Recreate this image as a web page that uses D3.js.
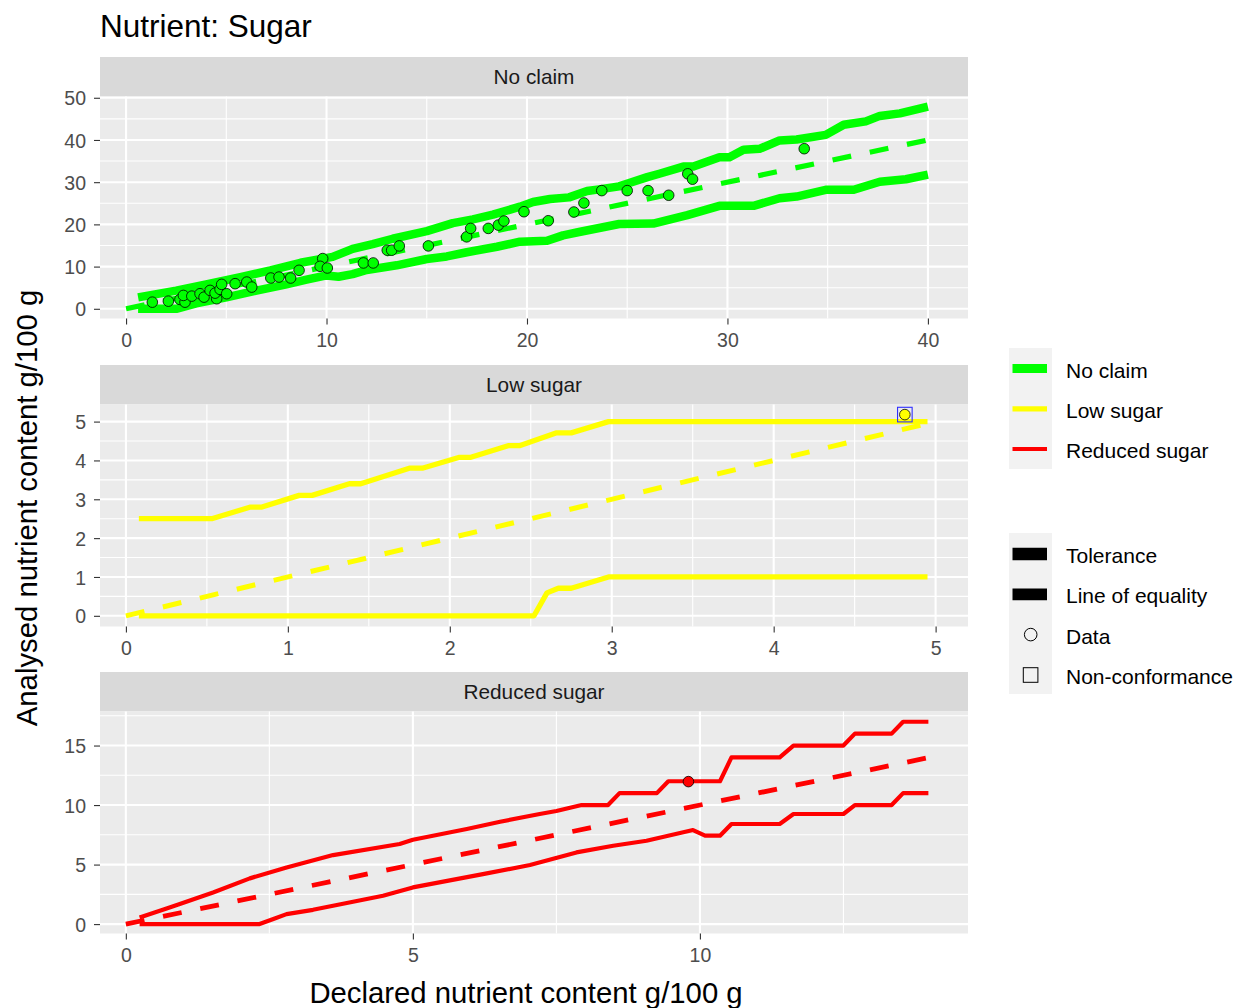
<!DOCTYPE html>
<html><head><meta charset="utf-8">
<script src="https://cdn.jsdelivr.net/npm/d3@7/dist/d3.min.js"></script>
<style>
body{margin:0;background:#fff}
svg{display:block}
text{font-family:"Liberation Sans",Arial,sans-serif}
</style>
</head><body>
<svg id="chart" width="1235" height="1008"></svg>
<script>
// ---------- DATA ----------
const chartTitle = "Nutrient: Sugar";
const xAxisTitle = "Declared nutrient content g/100 g";
const yAxisTitle = "Analysed nutrient content g/100 g";
const panelNames = ["No claim", "Low sugar", "Reduced sugar"];
const panelColors = ["#00FF00", "#FFFF00", "#FF0000"];

// tick labels per panel
const xTicksNoClaim = [0, 10, 20, 30, 40];
const yTicksNoClaim = [0, 10, 20, 30, 40, 50];
const xTicksLow = [0, 1, 2, 3, 4, 5];
const yTicksLow = [0, 1, 2, 3, 4, 5];
const xTicksReduced = [0, 5, 10];
const yTicksReduced = [0, 5, 10, 15];

// No claim: tolerance lines, line of equality, data
const ncUpperX = [0.6, 2.5, 4.0, 5.7, 7.2, 8.7, 10.3, 11.3, 12.3, 13.3, 15.0, 16.3, 17.3, 18.3, 19.65, 20.3, 21.15, 22.1, 23.0, 23.6, 24.6, 25.1, 26.0, 26.6, 27.8, 28.3, 29.6, 30.1, 30.8, 31.6, 32.6, 33.45, 34.9, 35.8, 36.9, 37.6, 38.6, 40.0];
const ncUpperY = [2.7, 4.3, 5.8, 7.5, 9.1, 10.9, 12.3, 14.2, 15.3, 16.6, 18.4, 20.3, 21.2, 22.3, 24.2, 25.3, 26.0, 26.4, 27.9, 28.3, 29.0, 29.8, 31.2, 32.0, 33.7, 33.7, 35.9, 35.9, 37.7, 37.9, 39.9, 40.1, 41.2, 43.6, 44.4, 45.7, 46.3, 47.9];
const ncLowerX = [0.6, 2.5, 3.5, 5.0, 6.5, 8.0, 9.0, 10.0, 10.6, 11.3, 12.0, 13.5, 15.0, 16.0, 17.0, 18.5, 19.65, 21.0, 21.8, 22.6, 24.6, 26.3, 28.0, 29.6, 31.3, 32.6, 33.45, 34.9, 36.3, 37.6, 38.9, 40.0];
const ncLowerY = [0.0, 0.0, 1.3, 2.7, 4.3, 5.8, 6.9, 7.9, 7.6, 8.2, 9.2, 10.3, 11.8, 12.4, 13.4, 14.7, 15.9, 16.1, 17.4, 18.2, 20.1, 20.2, 22.2, 24.4, 24.4, 26.2, 26.6, 28.2, 28.2, 30.1, 30.7, 31.8];
const ncEqualX = [0, 40];
const ncEqualY = [0, 40];
const ncDataX = [1.31, 2.11, 2.69, 2.94, 2.86, 3.28, 3.69, 3.89, 4.19, 4.52, 4.44, 4.69, 4.77, 5.02, 5.44, 6.02, 6.27, 7.22, 7.63, 8.21, 8.63, 9.81, 9.68, 10.04, 11.84, 12.33, 13.03, 13.25, 13.63, 15.08, 16.99, 17.19, 18.07, 18.57, 18.85, 19.85, 21.06, 22.34, 22.84, 23.73, 25.0, 26.04, 27.07, 28.02, 28.26, 33.83];
const ncDataY = [1.57, 1.81, 2.21, 1.57, 3.17, 3.0, 3.57, 2.76, 4.36, 2.38, 3.71, 4.6, 5.79, 3.57, 5.95, 6.33, 5.14, 7.29, 7.52, 7.29, 9.12, 11.9, 10.07, 9.67, 10.86, 10.86, 13.88, 13.88, 14.9, 14.9, 17.05, 19.05, 19.05, 19.83, 20.79, 23.0, 20.86, 22.93, 25.07, 28.0, 28.0, 28.0, 26.9, 31.98, 30.71, 37.93];

// Low sugar
const lsUpperX = [0.08, 0.53, 0.77, 0.84, 1.07, 1.15, 1.38, 1.45, 1.75, 1.83, 2.06, 2.13, 2.36, 2.43, 2.66, 2.75, 2.98, 4.95];
const lsUpperY = [2.5, 2.5, 2.8, 2.8, 3.1, 3.1, 3.4, 3.4, 3.8, 3.8, 4.08, 4.08, 4.38, 4.38, 4.71, 4.71, 5.0, 5.0];
const lsLowerX = [0.08, 2.52, 2.6, 2.67, 2.75, 2.98, 4.95];
const lsLowerY = [0.0, 0.0, 0.59, 0.71, 0.71, 1.0, 1.0];
const lsEqualX = [0, 4.95];
const lsEqualY = [0, 4.95];
const lsDataX = [4.81];
const lsDataY = [5.18];
const lsNonConfX = [4.81];
const lsNonConfY = [5.18];

// Reduced sugar
const rsUpperX = [0.24, 0.71, 0.94, 1.52, 2.16, 2.8, 3.61, 4.77, 5.0, 5.94, 6.52, 7.21, 7.5, 7.94, 8.4, 8.6, 9.25, 9.45, 10.35, 10.55, 11.39, 11.63, 12.5, 12.7, 13.34, 13.54, 13.98];
const rsUpperY = [0.56, 1.31, 1.68, 2.66, 3.84, 4.76, 5.8, 6.73, 7.09, 7.99, 8.6, 9.25, 9.5, 10.0, 10.0, 11.0, 11.0, 12.0, 12.0, 14.0, 14.0, 15.0, 15.0, 16.0, 16.0, 17.0, 17.0];
const rsLowerX = [0.24, 2.33, 2.57, 2.8, 3.26, 3.61, 4.48, 5.0, 6.22, 7.04, 7.85, 8.49, 9.07, 9.88, 10.09, 10.35, 10.55, 11.39, 11.63, 12.5, 12.7, 13.34, 13.54, 13.98];
const rsLowerY = [0.0, 0.0, 0.42, 0.84, 1.2, 1.54, 2.38, 3.08, 4.2, 4.96, 6.02, 6.58, 7.0, 7.9, 7.43, 7.43, 8.41, 8.41, 9.25, 9.25, 10.0, 10.0, 11.0, 11.0];
const rsEqualX = [0, 14];
const rsEqualY = [0, 14];
const rsDataX = [9.8];
const rsDataY = [11.97];

// legends
const claimLegendLabels = ["No claim", "Low sugar", "Reduced sugar"];
const typeLegendLabels = ["Tolerance", "Line of equality", "Data", "Non-conformance"];

// ---------- LAYOUT ----------
const zip = (xs, ys) => xs.map((x, i) => [x, ys[i]]);
const panels = [
  { name: panelNames[0], color: panelColors[0], top: 57, xDom: [-1.3, 42], yDom: [-2.3, 50.3],
    xTicks: xTicksNoClaim, yTicks: yTicksNoClaim, tolW: 8.5, eqW: 5.2,
    upper: zip(ncUpperX, ncUpperY), lower: zip(ncLowerX, ncLowerY), equal: zip(ncEqualX, ncEqualY),
    data: zip(ncDataX, ncDataY), nonconf: [] },
  { name: panelNames[1], color: panelColors[1], top: 365, xDom: [-0.16, 5.2], yDom: [-0.275, 5.44],
    xTicks: xTicksLow, yTicks: yTicksLow, tolW: 5.3, eqW: 5,
    upper: zip(lsUpperX, lsUpperY), lower: zip(lsLowerX, lsLowerY), equal: zip(lsEqualX, lsEqualY),
    data: zip(lsDataX, lsDataY), nonconf: zip(lsNonConfX, lsNonConfY) },
  { name: panelNames[2], color: panelColors[2], top: 672, xDom: [-0.45, 14.67], yDom: [-0.79, 17.86],
    xTicks: xTicksReduced, yTicks: yTicksReduced, tolW: 4.2, eqW: 4.8,
    upper: zip(rsUpperX, rsUpperY), lower: zip(rsLowerX, rsLowerY), equal: zip(rsEqualX, rsEqualY),
    data: zip(rsDataX, rsDataY), nonconf: [] }
];
const pLeft = 100, pRight = 968, stripH = 39.5, panelH = 222;

const svg = d3.select("#chart");
svg.append("rect").attr("width", 1235).attr("height", 1008).attr("fill", "#fff");

function minorBreaks(ticks, dom) {
  const step = ticks[1] - ticks[0];
  const out = [];
  for (let i = -1; i < ticks.length; i++) {
    const m = (i < 0 ? ticks[0] - step / 2 : ticks[i] + step / 2);
    if (m > dom[0] && m < dom[1]) out.push(m);
  }
  return out;
}

panels.forEach((p, pi) => {
  const pTop = p.top + stripH, pBot = pTop + panelH;
  const x = d3.scaleLinear().domain(p.xDom).range([pLeft, pRight]);
  const y = d3.scaleLinear().domain(p.yDom).range([pBot, pTop]);
  const g = svg.append("g");

  // strip
  g.append("rect").attr("x", pLeft).attr("y", p.top).attr("width", pRight - pLeft).attr("height", stripH).attr("fill", "#D9D9D9");
  g.append("text").attr("x", (pLeft + pRight) / 2).attr("y", p.top + stripH / 2).attr("dy", "0.36em")
    .attr("text-anchor", "middle").attr("font-size", 20.8).attr("fill", "#1A1A1A").text(p.name);

  // panel bg
  g.append("rect").attr("x", pLeft).attr("y", pTop).attr("width", pRight - pLeft).attr("height", panelH).attr("fill", "#EBEBEB");

  // grid
  const grid = g.append("g").attr("stroke", "#fff").attr("fill", "none");
  minorBreaks(p.xTicks, p.xDom).forEach(v => grid.append("line").attr("x1", x(v)).attr("x2", x(v)).attr("y1", pTop).attr("y2", pBot).attr("stroke-width", 1.1));
  minorBreaks(p.yTicks, p.yDom).forEach(v => grid.append("line").attr("y1", y(v)).attr("y2", y(v)).attr("x1", pLeft).attr("x2", pRight).attr("stroke-width", 1.1));
  p.xTicks.forEach(v => grid.append("line").attr("x1", x(v)).attr("x2", x(v)).attr("y1", pTop).attr("y2", pBot).attr("stroke-width", 2.1));
  p.yTicks.forEach(v => grid.append("line").attr("y1", y(v)).attr("y2", y(v)).attr("x1", pLeft).attr("x2", pRight).attr("stroke-width", 2.1));

  // clip
  const cid = "clip" + pi;
  svg.append("clipPath").attr("id", cid).append("rect").attr("x", pLeft).attr("y", pTop).attr("width", pRight - pLeft).attr("height", panelH);
  const plot = g.append("g").attr("clip-path", `url(#${cid})`);
  const line = d3.line().x(d => x(d[0])).y(d => y(d[1]));

  [p.upper, p.lower].forEach(l => plot.append("path").attr("d", line(l)).attr("fill", "none")
    .attr("stroke", p.color).attr("stroke-width", p.tolW).attr("stroke-linejoin", "round").attr("stroke-linecap", "butt"));
  plot.append("path").attr("d", line(p.equal)).attr("fill", "none").attr("stroke", p.color)
    .attr("stroke-width", p.eqW).attr("stroke-dasharray", "19,19").attr("stroke-linecap", "butt");

  plot.selectAll("circle.pt").data(p.data).join("circle").attr("class", "pt")
    .attr("cx", d => x(d[0])).attr("cy", d => y(d[1])).attr("r", 5.3)
    .attr("fill", p.color).attr("stroke", "#000").attr("stroke-width", 0.8);
  plot.selectAll("rect.nc").data(p.nonconf).join("rect").attr("class", "nc")
    .attr("x", d => x(d[0]) - 7.3).attr("y", d => y(d[1]) - 7.3).attr("width", 14.6).attr("height", 14.6)
    .attr("fill", "none").attr("stroke", "#3030FF").attr("stroke-width", 1.1);

  // axes
  const ax = g.append("g").attr("transform", `translate(0,${pBot})`)
    .call(d3.axisBottom(x).tickValues(p.xTicks).tickSize(6).tickPadding(5).tickFormat(d3.format("d")));
  const ay = g.append("g").attr("transform", `translate(${pLeft},0)`)
    .call(d3.axisLeft(y).tickValues(p.yTicks).tickSize(6).tickPadding(8).tickFormat(d3.format("d")));
  [ax, ay].forEach(a => {
    a.select(".domain").remove();
    a.selectAll(".tick line").attr("stroke", "#333333").attr("stroke-width", 1.1);
    a.selectAll(".tick text").attr("fill", "#4D4D4D").attr("font-size", 19.5)
      .attr("font-family", '"Liberation Sans",Arial,sans-serif');
  });
  ay.selectAll(".tick text").attr("dy", "0.36em");
  ax.selectAll(".tick text").attr("dy", "0.9em");
});

// titles
svg.append("text").attr("x", 100).attr("y", 37).attr("font-size", 31.5).attr("fill", "#000").text(chartTitle);
svg.append("text").attr("x", 526).attr("y", 1003).attr("text-anchor", "middle").attr("font-size", 29.3).attr("fill", "#000").text(xAxisTitle);
svg.append("text").attr("transform", "translate(37,508) rotate(-90)").attr("text-anchor", "middle")
  .attr("font-size", 29.3).attr("fill", "#000").text(yAxisTitle);

// legend 1 (claim colours)
const legX = 1009, keyW = 43;
const claimKeyWidths = [9, 5.3, 4];
const leg1 = svg.append("g");
leg1.append("rect").attr("x", legX).attr("y", 348).attr("width", keyW).attr("height", 121).attr("fill", "#F2F2F2");
claimLegendLabels.forEach((lab, i) => {
  const cy = 368.5 + i * 40.3;
  leg1.append("line").attr("x1", legX + 3.5).attr("x2", legX + 38).attr("y1", cy).attr("y2", cy)
    .attr("stroke", panelColors[i]).attr("stroke-width", claimKeyWidths[i]);
  leg1.append("text").attr("x", 1066).attr("y", cy + 1.5).attr("dy", "0.36em").attr("font-size", 21).attr("fill", "#000").text(lab);
});

// legend 2 (mark types)
const leg2 = svg.append("g");
leg2.append("rect").attr("x", legX).attr("y", 533).attr("width", keyW).attr("height", 161).attr("fill", "#F2F2F2");
typeLegendLabels.forEach((lab, i) => {
  const cy = 554 + i * 40.3;
  if (i === 0 || i === 1) {
    leg2.append("line").attr("x1", legX + 3.5).attr("x2", legX + 38).attr("y1", cy).attr("y2", cy)
      .attr("stroke", "#000").attr("stroke-width", i === 0 ? 12.7 : 11.7);
  } else if (i === 2) {
    leg2.append("circle").attr("cx", legX + 21.7).attr("cy", cy).attr("r", 6.3).attr("fill", "none").attr("stroke", "#000").attr("stroke-width", 1);
  } else {
    leg2.append("rect").attr("x", legX + 14.3).attr("y", cy - 7.2).attr("width", 14.6).attr("height", 14.6)
      .attr("fill", "none").attr("stroke", "#000").attr("stroke-width", 1);
  }
  leg2.append("text").attr("x", 1066).attr("y", cy + 1.5).attr("dy", "0.36em").attr("font-size", 21).attr("fill", "#000").text(lab);
});
</script>
</body></html>
